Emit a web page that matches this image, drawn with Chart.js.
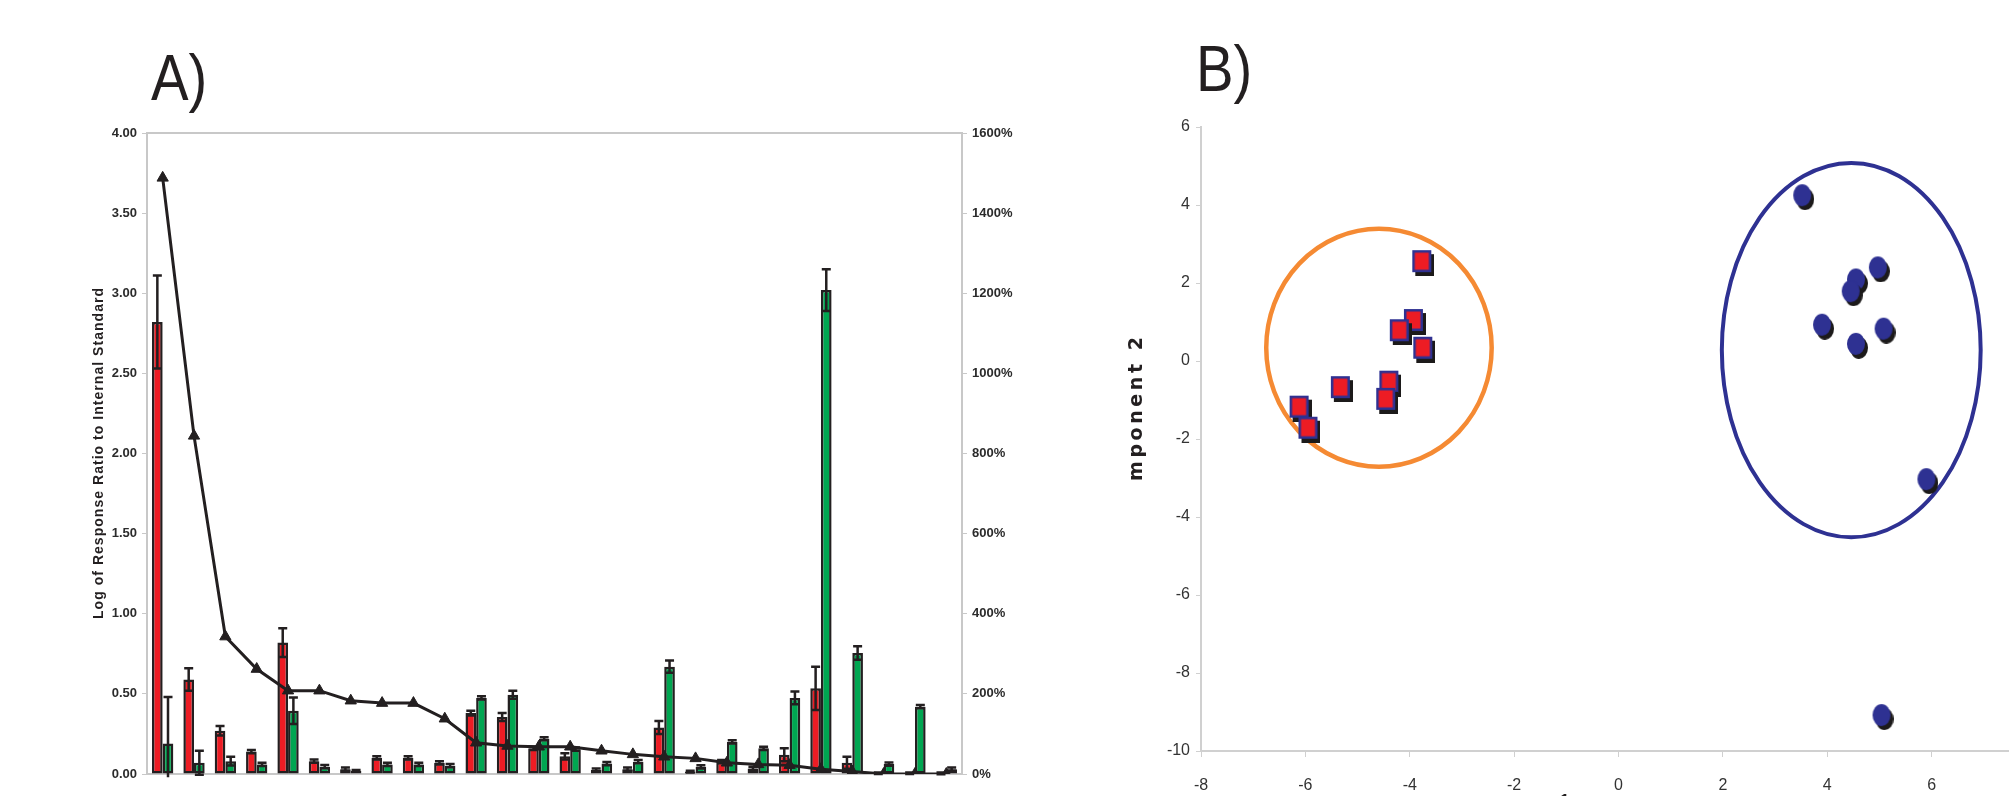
<!DOCTYPE html>
<html><head><meta charset="utf-8">
<script src="https://cdn.jsdelivr.net/npm/chart.js@4.4.1/dist/chart.umd.min.js"></script>
<style>
html,body{margin:0;padding:0;background:#fff;width:2009px;height:796px;overflow:hidden;position:relative;}
#ca{position:absolute;left:0;top:0;}
#cb{position:absolute;left:1040px;top:0;}
.pl{position:absolute;font-family:"Liberation Sans",Arial,sans-serif;font-size:64px;color:#231f20;line-height:1;transform-origin:0 0;transform:scaleX(0.88);white-space:nowrap;}
</style></head><body>
<div class="pl" style="left:151px;top:46px;">A)</div>
<div class="pl" style="left:1196px;top:37px;">B)</div>
<canvas id="ca" width="1060" height="796"></canvas>
<canvas id="cb" width="1020" height="850"></canvas>
<script>
// ---------- Panel A data ----------
const categories = ['1','2','3','4','5','6','7','8','9','10','11','12','13','14','15','16','17','18','19','20','21','22','23','24','25','26'];
const redValues   = [2.82, 0.59, 0.27, 0.14, 0.82, 0.08, 0.03, 0.10, 0.10, 0.07, 0.38, 0.355, 0.16, 0.11, 0.025, 0.03, 0.29, 0.015, 0.077, 0.035, 0.12, 0.535, 0.07, 0.005, 0.005, 0.004];
const redErrors   = [0.29, 0.07, 0.03, 0.01, 0.09, 0.01, 0.01, 0.01, 0.01, 0.01, 0.015, 0.025, 0.01, 0.02, 0.01, 0.01, 0.04, 0.005, 0.01, 0.01, 0.04, 0.135, 0.037, 0.005, 0.005, 0.005];
const greenValues = [0.19, 0.07, 0.08, 0.06, 0.395, 0.046, 0.02, 0.06, 0.06, 0.052, 0.475, 0.495, 0.22, 0.155, 0.065, 0.077, 0.67, 0.045, 0.20, 0.16, 0.475, 3.02, 0.755, 0.062, 0.42, 0.03];
const greenErrors = [0.29, 0.075, 0.027, 0.01, 0.083, 0.01, 0.005, 0.01, 0.01, 0.01, 0.01, 0.025, 0.01, 0.01, 0.01, 0.01, 0.038, 0.01, 0.01, 0.01, 0.04, 0.13, 0.042, 0.01, 0.01, 0.01];
const cumulativePct = [1488, 844, 343, 262, 208, 208, 183, 177, 177, 138, 78, 70, 68, 68, 58, 49, 43, 39, 28, 24, 22, 12, 6, 0, 0, 0];
const leftTitleA = 'Log of Response Ratio to Internal Standard';

// ---------- Panel B data ----------
const squareX = [-3.77, -3.93, -4.20, -3.75, -4.40, -4.46, -5.33, -6.12, -5.95];
const squareY = [2.56, 1.05, 0.79, 0.34, -0.53, -0.97, -0.67, -1.17, -1.71];
const dotX = [3.52, 4.97, 4.55, 4.45, 3.90, 5.08, 4.55, 5.90, 5.04];
const dotY = [4.25, 2.40, 2.09, 1.79, 0.93, 0.83, 0.44, -3.03, -9.08];
const ellipseCx = [-4.59, 4.46];
const ellipseCy = [0.34, 0.28];
const ellipseRx = [2.16, 2.48];
const ellipseRy = [3.05, 4.80];
const ellipseColors = ['#f58a33', '#2e3192'];
const yTitleB = 'Principal Component 2';
const xTitleB = 'Principal Component 1';

Chart.defaults.font.family = '"Liberation Sans", Arial, sans-serif';
const DARK = '#231f20';
const AXIS = '#c8c8c8';

function charsWidth(ctx, text){ let w=0; for(const ch of text) w += ctx.measureText(ch).width; return w; }
function drawSpaced(ctx, text, x, y, sp){ let cx=x; for(const ch of text){ ctx.fillText(ch,cx,y); cx += ctx.measureText(ch).width + sp; } }

const panelAPlugin = {
  id:'panelA',
  beforeDatasetsDraw(chart){
    const {ctx, chartArea:a} = chart;
    ctx.save(); ctx.strokeStyle=AXIS; ctx.lineWidth=2;
    ctx.beginPath(); ctx.moveTo(a.left, a.top); ctx.lineTo(a.right, a.top); ctx.stroke();
    ctx.restore();
  },
  afterDatasetDraw(chart, args){
    const ds = chart.data.datasets[args.index];
    if(!ds.errors) return;
    const y = chart.scales.y, ctx = chart.ctx;
    ctx.save(); ctx.strokeStyle=DARK; ctx.lineWidth=2.5;
    args.meta.data.forEach((bar,i)=>{
      const v = ds.data[i], e = ds.errors[i];
      const x = bar.x, hw = 4.5;
      const yt = y.getPixelForValue(v+e);
      const lowV = Math.max(v-e, -0.02);
      const yb = y.getPixelForValue(lowV);
      ctx.beginPath();
      ctx.moveTo(x,yt); ctx.lineTo(x,yb);
      ctx.moveTo(x-hw,yt); ctx.lineTo(x+hw,yt);
      if(v-e >= -0.02){ ctx.moveTo(x-hw,yb); ctx.lineTo(x+hw,yb); }
      ctx.stroke();
    });
    ctx.restore();
  },
  afterDraw(chart){
    const {ctx, chartArea:a} = chart;
    ctx.save();
    ctx.font = 'bold 14px "Liberation Sans", Arial, sans-serif';
    ctx.fillStyle = DARK; ctx.textBaseline='middle'; ctx.textAlign='left';
    const target = 331;
    const w = charsWidth(ctx, leftTitleA);
    const sp = Math.max(0, (target - w)/(leftTitleA.length-1));
    ctx.translate(99, (a.top+a.bottom)/2);
    ctx.rotate(-Math.PI/2);
    drawSpaced(ctx, leftTitleA, -target/2, 0, sp);
    ctx.restore();
  }
};

new Chart(document.getElementById('ca'), {
  data:{
    labels: categories,
    datasets:[
      {type:'line', label:'Cumulative', data:cumulativePct, yAxisID:'y1', order:0,
       borderColor:DARK, borderWidth:3, pointStyle:'triangle', pointRadius:6.5,
       pointBackgroundColor:DARK, pointBorderColor:DARK, pointBorderWidth:1, tension:0},
      {type:'bar', label:'Red', data:redValues, errors:redErrors, yAxisID:'y', order:1,
       backgroundColor:'#ed1c24', borderColor:DARK, borderWidth:2.5, borderSkipped:false,
       categoryPercentage:0.68, barPercentage:1},
      {type:'bar', label:'Green', data:greenValues, errors:greenErrors, yAxisID:'y', order:1,
       backgroundColor:'#00a651', borderColor:DARK, borderWidth:2.5, borderSkipped:false,
       categoryPercentage:0.68, barPercentage:1}
    ]
  },
  options:{
    responsive:false, animation:false, devicePixelRatio:1,
    layout:{padding:{top:133,left:0,right:0,bottom:0}},
    plugins:{legend:{display:false}, tooltip:{enabled:false}},
    scales:{
      x:{ticks:{display:false}, grid:{display:false}, border:{display:true,color:AXIS,width:2},
         afterFit(s){ s.height = 22; }},
      y:{position:'left', min:0, max:4,
         ticks:{stepSize:0.5, callback:v=>Number(v).toFixed(2), font:{size:13,weight:'bold'}, color:'#2b2b2b', padding:5},
         grid:{drawOnChartArea:false, tickLength:5, color:AXIS}, border:{color:AXIS,width:2},
         afterFit(s){ s.width = 147; }},
      y1:{position:'right', min:0, max:1600,
         ticks:{stepSize:200, callback:v=>v+'%', font:{size:13,weight:'bold'}, color:'#2b2b2b', padding:5},
         grid:{drawOnChartArea:false, tickLength:5, color:AXIS}, border:{color:AXIS,width:2},
         afterFit(s){ s.width = 98; }}
    }
  },
  plugins:[panelAPlugin]
});

// ---------- Panel B ----------
function makeSquare(){
  const c=document.createElement('canvas'); c.width=25; c.height=30;
  const g=c.getContext('2d');
  g.fillStyle='#1c1a1a'; g.fillRect(6,8,19,22);
  g.fillStyle='#2e3192'; g.fillRect(3,4,19,22);
  g.fillStyle='#ed1c24'; g.fillRect(5.5,6.5,14,17);
  return c;
}
function makeDot(){
  const c=document.createElement('canvas'); c.width=24; c.height=30;
  const g=c.getContext('2d');
  g.fillStyle='#1c1a1a'; g.beginPath(); g.ellipse(15,19,9,11,0,0,Math.PI*2); g.fill();
  g.fillStyle='#2e3192'; g.beginPath(); g.ellipse(12,15,9,11,0,0,Math.PI*2); g.fill();
  return c;
}

const panelBPlugin = {
  id:'panelB',
  beforeDatasetsDraw(chart){
    const {ctx, scales:{x,y}} = chart;
    ctx.save();
    for(let i=0;i<ellipseCx.length;i++){
      const px = x.getPixelForValue(ellipseCx[i]), py = y.getPixelForValue(ellipseCy[i]);
      const rx = Math.abs(x.getPixelForValue(ellipseCx[i]+ellipseRx[i]) - px);
      const ry = Math.abs(y.getPixelForValue(ellipseCy[i]+ellipseRy[i]) - py);
      ctx.strokeStyle = ellipseColors[i]; ctx.lineWidth = i===0 ? 4.5 : 4;
      ctx.beginPath(); ctx.ellipse(px,py,rx,ry,0,0,Math.PI*2); ctx.stroke();
    }
    ctx.restore();
  },
  afterDraw(chart){
    const ctx = chart.ctx;
    // y title (partly hidden in the reference)
    ctx.save();
    ctx.font = 'bold 19px "DejaVu Sans", Verdana, sans-serif';
    ctx.fillStyle = DARK; ctx.textBaseline='middle'; ctx.textAlign='left';
    const visible = yTitleB.slice(12);
    const targetVis = 144;
    const sp = Math.max(0, (targetVis - charsWidth(ctx, visible))/(visible.length-1));
    const W = charsWidth(ctx, yTitleB) + sp*(yTitleB.length-1);
    const endTop = 337;
    const startY = endTop + W;
    const hidden = yTitleB.slice(0, 12);
    const cut = startY - (charsWidth(ctx, hidden) + sp*12) + sp/2;
    ctx.beginPath(); ctx.rect(0, 0, 300, cut); ctx.clip();
    ctx.translate(97, startY); ctx.rotate(-Math.PI/2);
    drawSpaced(ctx, yTitleB, 0, 0, sp);
    ctx.restore();
    // x title (only a fragment visible at the bottom edge)
    ctx.save();
    ctx.font = 'bold 17px "Liberation Sans", Arial, sans-serif';
    ctx.fillStyle = DARK; ctx.textBaseline='alphabetic'; ctx.textAlign='left';
    const sp2 = 4;
    const head = xTitleB.slice(0, xTitleB.length-1);
    const wHead = charsWidth(ctx, head) + sp2*head.length;
    const lastX = 520;
    ctx.beginPath(); ctx.rect(lastX-3, 0, 200, 900); ctx.clip();
    drawSpaced(ctx, xTitleB, lastX - wHead, 806, sp2);
    ctx.restore();
  }
};

new Chart(document.getElementById('cb'), {
  type:'scatter',
  data:{datasets:[
    {label:'Group A', data: squareX.map((v,i)=>({x:v, y:squareY[i]})), pointStyle: makeSquare(), pointRadius:10},
    {label:'Group B', data: dotX.map((v,i)=>({x:v, y:dotY[i]})), pointStyle: makeDot(), pointRadius:10}
  ]},
  options:{
    responsive:false, animation:false, devicePixelRatio:1,
    layout:{padding:{top:127,right:24,left:0,bottom:0}},
    plugins:{legend:{display:false}, tooltip:{enabled:false}},
    scales:{
      x:{type:'linear', min:-8, max:8,
         ticks:{stepSize:2, font:{size:16}, color:'#333', padding:19},
         grid:{drawOnChartArea:false, tickLength:6, color:'#d0d0d0'}, border:{color:'#d0d0d0', width:2},
         afterFit(s){ s.height = 99; }},
      y:{type:'linear', min:-10, max:6,
         ticks:{stepSize:2, font:{size:16}, color:'#333', padding:6},
         grid:{drawOnChartArea:false, tickLength:5, color:'#d0d0d0'}, border:{color:'#d0d0d0', width:2},
         afterFit(s){ s.width = 161; }}
    }
  },
  plugins:[panelBPlugin]
});
</script>
</body></html>
